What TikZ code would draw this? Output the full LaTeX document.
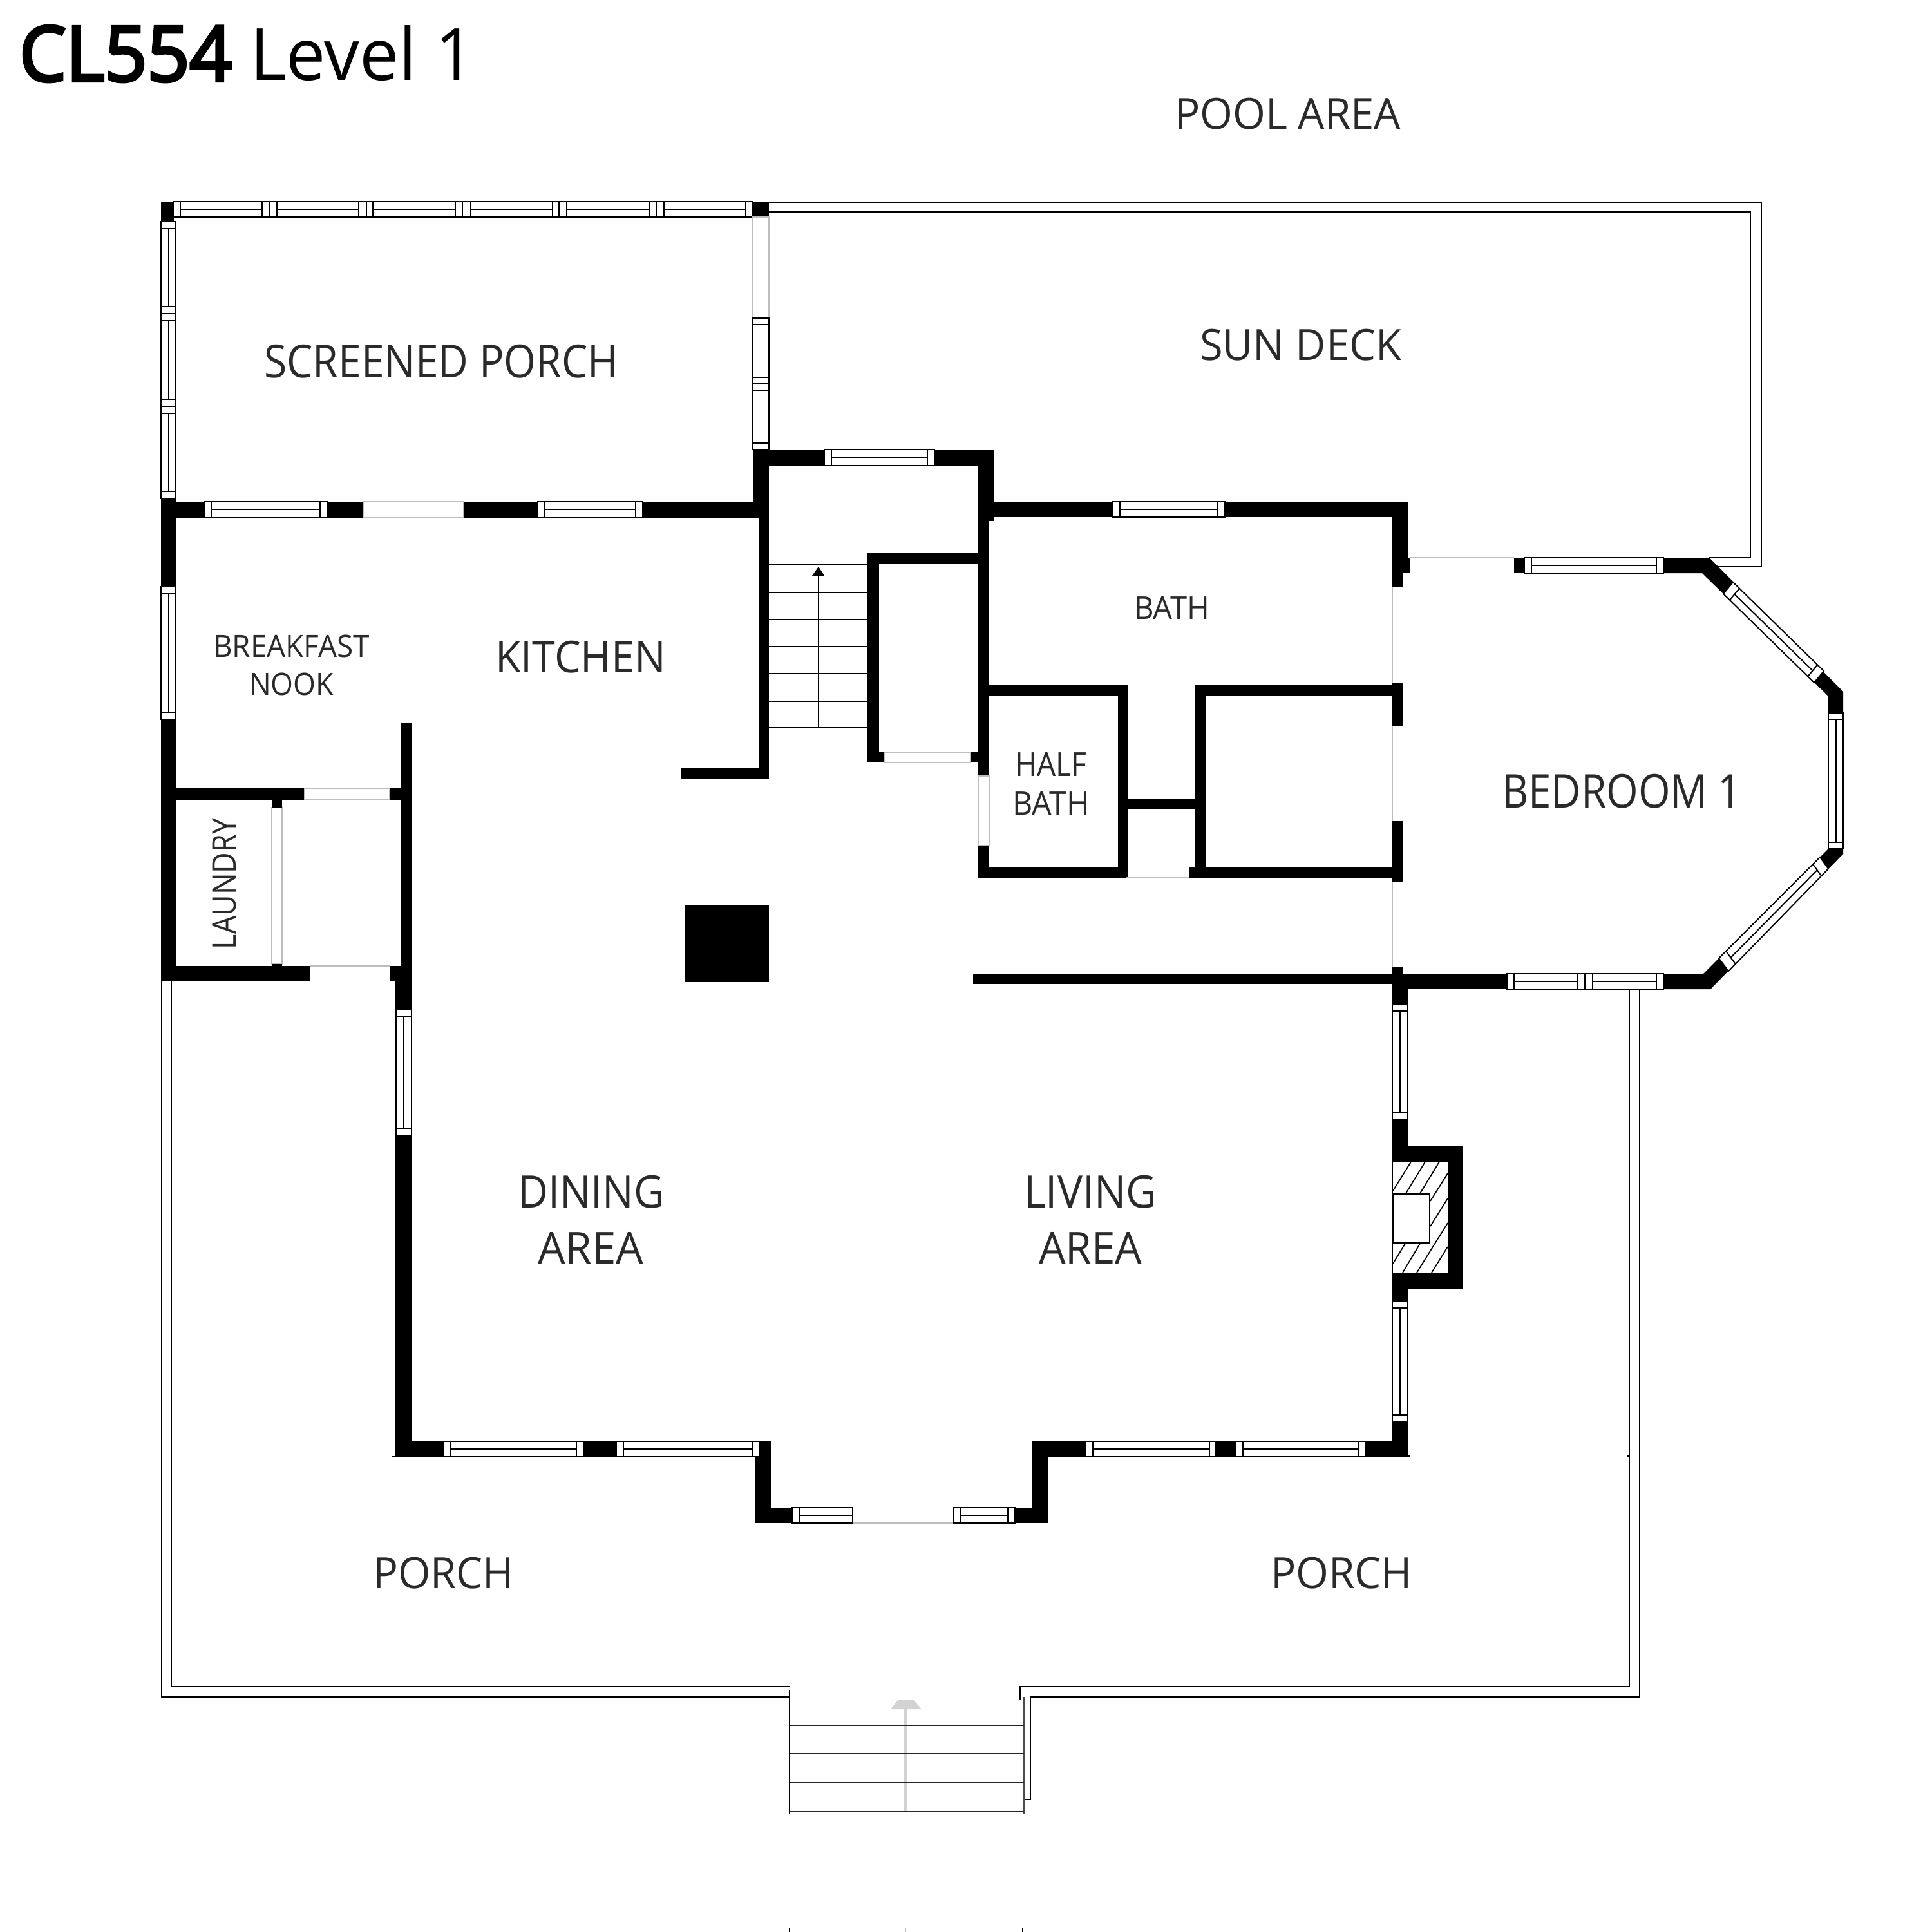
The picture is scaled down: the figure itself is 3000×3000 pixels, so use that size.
\documentclass[tikz,border=0pt]{standalone}
\usepackage{graphicx}
\usepackage{fontspec}
\setmainfont{Open Sans}
\newfontfamily\titlefont[FakeBold=4]{Open Sans}
\usetikzlibrary{calc}
\definecolor{ink}{HTML}{2A2A2A}
\definecolor{doorgray}{HTML}{BDBDBD}
\definecolor{stepgray}{HTML}{D2D2D2}
\tikzset{
  thinline/.style={line width=0.6pt,black},
  fineline/.style={line width=0.5pt,black},
  wallfill/.style={fill=black},
  paneline/.style={draw=black,line width=0.55pt,fill=white},
  doorline/.style={draw=doorgray,line width=0.45pt,fill=white},
  doorstroke/.style={line width=0.45pt,doorgray},
  lbl/.style={inner sep=0pt,outer sep=0pt,text=ink,font=\fontsize{20}{24}\selectfont},
  pxgrid/.style={x=0.01cm,y=-0.01cm},
}
\newcommand\wl[4]{\fill[wallfill] (#1,#2) rectangle (#3,#4);}
% horizontal window: x1 x2 y1 y2 capL capR
\newcommand\hwin[6]{%
  \draw[paneline] (#1,#3) rectangle (#2,#4);
  \draw[paneline] ({#1+#5},#3) -- ({#1+#5},#4);
  \draw[paneline] ({#2-#6},#3) -- ({#2-#6},#4);
  \draw[paneline] ({#1+#5},{(#3+#4)/2}) -- ({#2-#6},{(#3+#4)/2});}
% vertical window: x1 x2 y1 y2 cap
\newcommand\vwin[5]{%
  \draw[paneline] (#1,#3) rectangle (#2,#4);
  \draw[paneline] (#1,{#3+#5}) -- (#2,{#3+#5});
  \draw[paneline] (#1,{#4-#5}) -- (#2,{#4-#5});
  \draw[paneline] ({(#1+#2)/2},{#3+#5}) -- ({(#1+#2)/2},{#4-#5});}
% slanted window: outer a, outer b, inner b, inner a
\newcommand\qwin[4]{%
  \draw[paneline] #1 -- #2 -- #3 -- #4 -- cycle;
  \draw[paneline] ($#1!0.07!#2$) -- ($#4!0.07!#3$);
  \draw[paneline] ($#1!0.93!#2$) -- ($#4!0.93!#3$);
  \draw[paneline] ($($#1!0.5!#4$)!0.07!($#2!0.5!#3$)$) -- ($($#1!0.5!#4$)!0.93!($#2!0.5!#3$)$);}
% label box: the glyphs' side bearings are allowed for by widening 2 units each side
\newcommand\lab[6]{\node[lbl,anchor=south west] (#1) at ({#2-2},#5)
  {\resizebox*{\fpeval{(#4-#2+4)*0.01}cm}{\fpeval{(#5-#3)*0.01}cm}{#6}};}
\begin{document}
\begin{tikzpicture}[pxgrid]
\useasboundingbox (0,0) rectangle (3000,3000);
\fill[white] (0,0) rectangle (3000,3000);

% ---- deck and porch outlines
\draw[thinline] (1194,314) -- (2735,314) -- (2735,880) -- (2654,880);
\draw[thinline] (1194,329) -- (2718,329) -- (2718,866) -- (2654,866);
\draw[thinline] (251,1523) -- (251,2635) -- (1226,2635);
\draw[thinline] (266,1523) -- (266,2619) -- (1226,2619);
\draw[thinline] (2530,1536) -- (2530,2619) -- (1584,2619) -- (1584,2640);
\draw[thinline] (2546,1536) -- (2546,2635) -- (1600,2635) -- (1600,2794) -- (1592,2794);
\draw[thinline] (2527,2261) -- (2530,2261);

% ---- front steps
\draw[line width=1.7pt,stepgray] (1406,2813) -- (1406,2650);
\fill[stepgray] (1383,2654) -- (1395,2639) -- (1418,2639) -- (1431,2654) -- cycle;
\draw[thinline] (1226,2624) -- (1226,2817);
\draw[line width=0.7pt,black!70] (1590,2635) -- (1590,2817);
\foreach \y in {2679,2723,2768,2813} \draw[line width=0.7pt,black!85] (1226,\y) -- (1590,\y);
\draw[thinline] (1226,2994) -- (1226,3000);
\draw[thinline] (1588,2994) -- (1588,3000);
\draw[doorstroke] (1406,2994) -- (1406,3000);

% ---- screened porch
\hwin{269}{418}{313}{337}{11}{11}
\hwin{418}{569}{313}{337}{12}{12}
\hwin{569}{718}{313}{337}{10}{11}
\hwin{718}{868}{313}{337}{13}{10}
\hwin{868}{1019}{313}{337}{12}{10}
\hwin{1019}{1169}{313}{337}{12}{11}
\wl{250}{313}{270}{344}
\wl{1169}{313}{1194}{337}
\vwin{250}{273}{344}{487}{11}
\vwin{250}{273}{487}{631}{11}
\vwin{250}{273}{631}{774}{11}
\draw[doorline] (1169,337) rectangle (1194,494);
\vwin{1169}{1194}{494}{596}{10}
\vwin{1169}{1194}{596}{698}{10}

% ---- wall between porch and kitchen
\wl{250}{779}{1178}{804}
\hwin{317}{508}{779}{804}{11}{11}
\draw[doorline] (564,779) rectangle (720,804);
\hwin{835}{998}{779}{804}{11}{11}
\wl{1169}{698}{1194}{804}
\wl{1178}{804}{1194}{1209}
\wl{1058}{1193}{1194}{1209}

% ---- west wall
\wl{250}{774}{273}{911}
\vwin{250}{273}{911}{1117}{11}
\wl{250}{1117}{273}{1523}

% ---- laundry
\wl{622}{1122}{639}{1502}
\wl{273}{1224}{473}{1242}
\draw[doorline] (473,1224) rectangle (605,1242);
\wl{605}{1224}{639}{1242}
\draw[doorline] (422,1254) rectangle (438,1497);
\wl{422}{1224}{438}{1254}
\wl{422}{1497}{438}{1523}
\wl{250}{1500}{482}{1523}
\draw[doorstroke] (482,1500) -- (605,1500);
\wl{605}{1500}{639}{1523}
\wl{614}{1523}{639}{1567}
\vwin{615}{639}{1567}{1763}{11}
\wl{614}{1763}{639}{2262}
\draw[thinline] (608,2262) -- (614,2262);

% ---- pillar
\wl{1063}{1405}{1194}{1525}

% ---- south wall with bay
\wl{614}{2238}{1197}{2262}
\hwin{688}{906}{2238}{2262}{11}{11}
\hwin{957}{1179}{2238}{2262}{11}{11}
\wl{1173}{2262}{1197}{2365}
\wl{1173}{2341}{1230}{2365}
\hwin{1230}{1324}{2341}{2365}{11}{0}
\draw[doorstroke] (1324,2365) -- (1481,2365);
\hwin{1481}{1576}{2341}{2365}{11}{11}
\wl{1576}{2341}{1628}{2365}
\wl{1603}{2238}{1628}{2365}
\wl{1603}{2238}{2187}{2262}
\hwin{1686}{1888}{2238}{2262}{11}{10}
\hwin{1919}{2121}{2238}{2262}{11}{11}
\draw[thinline] (2187,2261) -- (2190,2261);

% ---- east wall with fireplace
\wl{2162}{1501}{2179}{1559}
\wl{2162}{1536}{2186}{1559}
\vwin{2162}{2186}{1559}{1738}{11}
\wl{2162}{1738}{2186}{1804}
\wl{2162}{1779}{2272}{2001}
\wl{2162}{1976}{2186}{2020}
\fill[white] (2163,1804) rectangle (2248,1976);
\foreach \a/\b/\c/\d in {2163/1849/2191/1804,2183/1853/2213/1804,2205/1853/2235/1804,
  2221/1865/2248/1822,2221/1904/2248/1861,2163/1962/2182/1931,2178/1976/2205/1931,
  2200/1976/2248/1899,2223/1976/2248/1936}
  \draw[fineline] (\a,\b) -- (\c,\d);
\draw[paneline] (2163,1854) rectangle (2220,1930);
\vwin{2162}{2186}{2020}{2208}{11}
\wl{2162}{2208}{2186}{2261}

% ---- stair hall
\wl{1169}{698}{1543}{723}
\hwin{1280}{1451}{698}{723}{11}{11}
\wl{1519}{698}{1543}{809}
\wl{1519}{809}{1536}{1205}
\wl{1347}{859}{1519}{876}
\wl{1347}{859}{1365}{1184}
\wl{1347}{1168}{1374}{1184}
\draw[doorline] (1374,1168) rectangle (1507,1184);
\wl{1507}{1168}{1519}{1184}
\foreach \y in {877,920,962,1004,1046,1089,1130} \draw[fineline] (1194,\y) -- (1347,\y);
\draw[fineline] (1271,1130) -- (1271,890);
\fill[black] (1261,894) -- (1271,880) -- (1280,894) -- cycle;

% ---- bath block
\wl{1543}{779}{2187}{803}
\hwin{1728}{1902}{779}{803}{11}{11}
\wl{2162}{780}{2187}{866}
\wl{2162}{866}{2190}{890}
\wl{2162}{890}{2178}{911}
\wl{1519}{1063}{1752}{1080}
\wl{1736}{1063}{1752}{1363}
\wl{1519}{1346}{1749}{1363}
\draw[doorline] (1519,1205) rectangle (1536,1313);
\wl{1519}{1313}{1536}{1363}
\wl{1752}{1240}{1856}{1256}
\wl{1856}{1063}{1873}{1363}
\wl{1856}{1063}{2162}{1081}
\wl{1846}{1346}{2162}{1363}
\draw[doorstroke] (1749,1363) -- (1846,1363);
\wl{1511}{1512}{2162}{1528}
\draw[doorstroke] (2162,911) -- (2162,1501);
\wl{2162}{1061}{2178}{1128}
\wl{2162}{1275}{2178}{1369}

% ---- bedroom bay
\draw[doorstroke] (2190,866) -- (2351,866);
\wl{2351}{866}{2367}{890}
\wl{2179}{1512}{2340}{1536}
\hwin{2340}{2461}{1512}{1536}{11}{11}
\hwin{2461}{2583}{1512}{1536}{12}{11}
\fill[wallfill] (2583,866) -- (2654,866) -- (2862,1074) -- (2862,1326) -- (2656,1536) -- (2583,1536)
  -- (2583,1512) -- (2645,1512) -- (2839,1318) -- (2839,1081) -- (2643,890) -- (2583,890) -- cycle;
\hwin{2367}{2583}{866}{890}{11}{11}
\coordinate (nea) at (2691,904);
\coordinate (neb) at (2832,1042);
\coordinate (nec) at (2817,1060);
\coordinate (ned) at (2676,922);
\coordinate (sea) at (2839,1349);
\coordinate (seb) at (2684,1508);
\coordinate (sec) at (2669,1488);
\coordinate (sed) at (2826,1331);
\qwin{(nea)}{(neb)}{(nec)}{(ned)}
\qwin{(sea)}{(seb)}{(sec)}{(sed)}
\vwin{2839}{2862}{1107}{1318}{10}

% ---- labels
\node[lbl,text=black,anchor=south west] (titlea) at (30,127)
  {\resizebox*{3.30cm}{0.87cm}{\titlefont CL554}};
\node[lbl,text=black,anchor=south west] (titleb) at (388,126)
  {\resizebox*{3.50cm}{0.86cm}{Level 1}};
\lab{pool}{1826}{152}{2173}{201}{POOL AREA}
\lab{sun}{1865}{511}{2174}{560}{SUN DECK}
\lab{screened}{412}{535}{958}{587}{SCREENED PORCH}
\lab{kitchen}{771}{995}{1032}{1045}{KITCHEN}
\lab{breakfast}{333}{986}{572}{1021}{BREAKFAST}
\lab{nook}{389}{1045}{516}{1080}{NOOK}
\node[lbl,rotate=90,anchor=south west] (laundry) at (367,1474)
  {\resizebox*{2.03cm}{0.37cm}{LAUNDRY}};
\lab{bath}{1763}{926}{1876}{961}{BATH}
\lab{half}{1578}{1168}{1685}{1205}{HALF}
\lab{halfbath}{1574}{1229}{1690}{1265}{BATH}
\lab{bedroom}{2334}{1202}{2702}{1255}{BEDROOM 1}
\lab{dining}{806}{1825}{1029}{1876}{DINING}
\lab{diningarea}{837}{1913}{997}{1962}{AREA}
\lab{living}{1592}{1825}{1794}{1876}{LIVING}
\lab{livingarea}{1615}{1913}{1771}{1962}{AREA}
\lab{porchl}{581}{2418}{795}{2467}{PORCH}
\lab{porchr}{1975}{2418}{2191}{2467}{PORCH}
\end{tikzpicture}
\end{document}
